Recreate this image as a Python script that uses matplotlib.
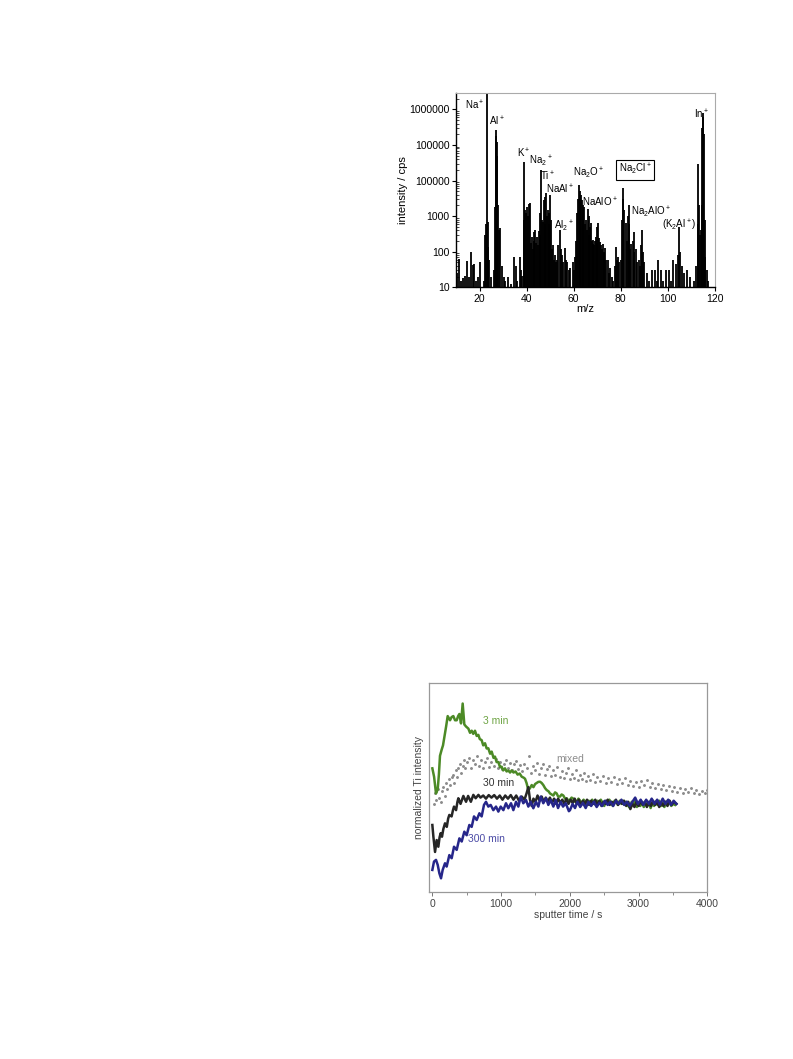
import matplotlib
matplotlib.use("Agg")
import matplotlib.pyplot as plt
from matplotlib.ticker import LogLocator, NullFormatter

plt.rcParams['font.family'] = ['Liberation Sans', 'DejaVu Sans']
plt.rcParams['mathtext.default'] = 'regular'

# --- mass spectrum (top panel) ---
mz = [10.5, 11.2, 12.0, 13.0, 13.8, 14.8, 15.5, 16.5, 17.3, 17.7, 18.5, 19.5, 20.4, 21.8,
      22.5, 22.8, 23.2, 23.5, 23.8, 24.2, 25.0, 26.0, 26.7, 26.95, 27.2, 27.4, 27.55, 27.8,
      28.2, 28.6, 29.6, 30.5, 31.0, 32.3, 33.5, 34.8, 35.3, 36.0, 37.1, 37.6, 38.2, 38.7,
      39.0, 39.3, 39.6, 40.2, 40.6, 41.1, 41.6, 42.0, 42.3, 42.7, 43.0, 43.3, 43.7, 44.0,
      44.4, 44.7, 45.1, 45.5, 45.8, 46.1, 46.4, 46.8, 47.2, 47.6, 48.0, 48.3, 48.7, 49.0,
      49.4, 49.7, 50.1, 50.4, 50.8, 51.2, 51.6, 52.0, 52.5, 53.0, 53.5, 54.0, 54.4, 55.0,
      55.5, 56.2, 56.6, 57.3, 58.0, 58.5, 59.5, 60.0, 60.5, 61.0, 61.4, 61.8, 62.1, 62.5,
      62.8, 63.1, 63.4, 63.8, 64.1, 64.4, 64.8, 65.2, 65.6, 66.0, 66.3, 66.7, 67.1, 67.4,
      67.8, 68.1, 68.4, 68.8, 69.1, 69.4, 69.8, 70.1, 70.5, 70.8, 71.2, 71.6, 72.0, 72.3,
      72.7, 73.0, 73.4, 73.8, 74.5, 75.0, 75.5, 76.2, 76.8, 77.6, 78.0, 78.4, 78.8, 79.4,
      80.0, 80.5, 80.8, 81.1, 81.4, 82.1, 82.5, 83.0, 83.3, 83.6, 84.0, 84.4, 85.0, 85.4,
      85.8, 86.4, 87.0, 87.6, 88.2, 88.7, 89.0, 89.4, 90.0, 91.0, 92.0, 93.3, 94.5, 95.2,
      96.0, 97.0, 98.0, 99.0, 100.3, 101.2, 102.3, 103.3, 104.5, 104.9, 105.3, 106.0, 107.0,
      108.3, 109.5, 111.0, 112.1, 112.6, 112.9, 113.2, 113.6, 114.0, 114.4, 114.7, 114.9,
      115.1, 115.3, 115.6, 115.8, 116.5, 117.2]
counts = [25, 62, 15, 18, 21, 56, 20, 100, 42, 45, 15, 20, 52, 15,
          300, 600, 5000000, 700, 140, 60, 20, 30, 1800, 180000, 260000, 120000, 49000, 2000,
          400, 450, 40, 20, 15, 20, 12, 73, 40, 15, 70, 30, 21, 800,
          34000, 1500, 1200, 1800, 1000, 2200, 2300, 180, 263, 120, 360, 200, 410, 180,
          260, 150, 380, 300, 1200, 20000, 800, 700, 2800, 600, 3500, 4400, 1000, 1500,
          600, 1200, 4000, 800, 120, 150, 60, 80, 50, 60, 150, 400, 120, 80,
          50, 125, 60, 50, 30, 35, 50, 30, 70, 200, 1200, 3000, 7500, 5000,
          3000, 4000, 2800, 1500, 2000, 1800, 600, 780, 400, 1600, 1000, 300, 500, 630,
          200, 160, 215, 150, 200, 260, 180, 500, 650, 250, 190, 150, 120, 170,
          90, 100, 130, 60, 60, 25, 35, 20, 15, 40, 138, 60, 70, 50,
          60, 780, 3000, 6000, 1500, 630, 200, 1000, 2000, 600, 120, 170, 200, 360,
          100, 120, 50, 60, 40, 150, 400, 100, 50, 25, 15, 30, 30, 15,
          60, 30, 15, 30, 30, 15, 60, 45, 80, 500, 100, 40, 25,
          30, 20, 15, 40, 600, 30000, 2000, 300, 400, 2000, 300000, 600000,
          770000, 200000, 800, 70, 30, 15]

ms_ticks = [10, 100, 1000, 10000, 100000, 1000000]
ms_ticklabels = ['10', '100', '1000', '100000', '100000', '1000000']

# (text, m/z, counts, boxed)
ms_labels = [
    ('Na$^+$', 17.9, 1.3e6, False),
    ('Al$^+$', 27.2, 4.5e5, False),
    ('K$^+$', 38.8, 6.0e4, False),
    ('Na$_2$$^+$', 46.1, 3.4e4, False),
    ('Ti$^+$', 48.9, 1.35e4, False),
    ('NaAl$^+$', 54.2, 5.6e3, False),
    ('Al$_2$$^+$', 56.0, 5.0e2, False),
    ('Na$_2$O$^+$', 66.4, 1.6e4, False),
    ('NaAlO$^+$', 71.0, 2.4e3, False),
    ('Na$_2$Cl$^+$', 86.1, 2.0e4, True),
    ('Na$_2$AlO$^+$', 93.0, 1.3e3, False),
    ('(K$_2$Al$^+$)', 105.0, 5.4e2, False),
    ('In$^+$', 114.4, 7.4e5, False),
]

# --- normalized Ti intensity vs sputter time (bottom panel) ---
t_3min = [0, 25, 53, 78, 95, 111, 136, 155, 175, 200, 223, 240, 257, 280, 305, 330, 354, 375,
          393, 417, 441, 465, 490, 524, 548, 572, 595, 620, 645, 669, 690, 717, 740, 766, 790,
          814, 840, 863, 890, 911, 935, 960, 985, 1008, 1030, 1057, 1080, 1105, 1130, 1154,
          1180, 1210, 1240, 1270, 1300, 1330, 1348, 1370, 1396, 1420, 1445, 1470, 1495, 1517,
          1540, 1566, 1590, 1614, 1640, 1663, 1690, 1711, 1735, 1760, 1785, 1808, 1830, 1857,
          1880, 1905, 1930, 1954, 1980, 2002, 2025, 2050, 2075, 2099, 2125, 2150, 2175, 2200,
          2225, 2250, 2275, 2300, 2325, 2350, 2375, 2400, 2425, 2450, 2475, 2500, 2525, 2550,
          2575, 2600, 2625, 2650, 2675, 2700, 2725, 2750, 2775, 2800, 2825, 2850, 2875, 2900,
          2925, 2950, 2975, 3000, 3025, 3050, 3075, 3100, 3125, 3150, 3175, 3200, 3225, 3250,
          3275, 3300, 3325, 3350, 3375, 3400, 3425, 3450, 3475, 3500, 3530]
y_3min = [5.9, 5.5, 4.7, 4.9, 5.6, 6.5, 6.8, 7.0, 7.4, 7.9, 8.4, 8.3, 8.2, 8.35, 8.4, 8.2, 8.2, 8.4,
          8.5, 8.05, 9.0, 8.0, 7.9, 7.8, 7.6, 7.7, 7.55, 7.7, 7.45, 7.5, 7.3, 7.25, 7.0, 7.1, 6.85,
          6.86, 6.6, 6.7, 6.4, 6.46, 6.2, 6.2, 5.95, 5.98, 5.8, 5.9, 5.75, 5.8, 5.7, 5.8,
          5.7, 5.75, 5.6, 5.65, 5.5, 5.45, 5.4, 5.2, 4.86, 4.95, 5.1, 5.0, 5.15, 5.2,
          5.25, 5.26, 5.2, 5.1, 4.95, 4.86, 4.8, 4.7, 4.65, 4.6, 4.75, 4.7, 4.55, 4.55,
          4.65, 4.6, 4.45, 4.47, 4.35, 4.4, 4.5, 4.45, 4.3, 4.3, 4.45, 4.35, 4.2, 4.4,
          4.3, 4.15, 4.35, 4.2, 4.4, 4.25, 4.15, 4.35, 4.2, 4.4, 4.25, 4.1, 4.35, 4.2,
          4.4, 4.25, 4.1, 4.35, 4.3, 4.15, 4.35, 4.2, 4.35, 4.15, 4.3, 4.1, 4.0, 4.3,
          4.15, 4.35, 4.05, 4.25, 4.1, 4.3, 4.05, 4.25, 4.1, 4.3, 4.0, 4.25, 4.1, 4.3,
          4.15, 4.35, 4.1, 4.25, 4.05, 4.3, 4.2, 4.35, 4.1, 4.2, 4.15]

t_30min = [0, 15, 39, 63, 87, 105, 121, 140, 160, 184, 210, 230, 247, 280, 300, 315, 345, 365,
           378, 410, 451, 490, 520, 560, 596, 630, 670, 700, 740, 780, 820, 860, 900, 940, 980,
           1020, 1060, 1100, 1140, 1180, 1220, 1260, 1300, 1340, 1370, 1396, 1420, 1445, 1470,
           1500, 1530, 1560, 1590, 1620, 1650, 1680, 1710, 1740, 1770, 1800, 1830, 1860, 1890,
           1920, 1950, 1980, 2010, 2040, 2070, 2100, 2130, 2160, 2190, 2220, 2250, 2280, 2310,
           2340, 2370, 2400, 2430, 2460, 2490, 2520, 2550, 2580, 2610, 2640, 2670, 2700, 2730,
           2760, 2790, 2820, 2850, 2880, 2910, 2940, 2970, 3000, 3030, 3060, 3090, 3120, 3150,
           3180, 3210, 3240, 3270, 3300, 3330, 3360, 3390, 3420, 3450, 3480, 3510, 3550]
y_30min = [3.19, 2.63, 1.9, 2.47, 2.15, 2.6, 2.8, 2.63, 3.0, 3.27, 3.1, 3.5, 3.67, 3.6, 3.9, 4.07,
           3.9, 4.3, 4.47, 4.2, 4.58, 4.3, 4.58, 4.3, 4.63, 4.47, 4.63, 4.5, 4.6, 4.45, 4.62, 4.5,
           4.62, 4.45, 4.6, 4.4, 4.6, 4.45, 4.62, 4.4, 4.6, 4.35, 4.55, 4.4, 4.7, 5.0, 4.4, 4.1,
           4.45, 4.3, 4.6, 4.35, 4.55, 4.3, 4.5, 4.3, 4.5, 4.25, 4.45, 4.2, 4.45, 4.25, 4.4,
           4.2, 4.45, 4.2, 4.4, 4.25, 4.45, 4.2, 4.4, 4.15, 4.35, 4.2, 4.4, 4.15, 4.35,
           4.2, 4.4, 4.15, 4.35, 4.1, 4.3, 4.2, 4.4, 4.15, 4.3, 4.2, 4.4, 4.15, 4.3,
           4.2, 4.35, 4.1, 4.3, 3.95, 4.2, 4.05, 4.3, 4.1, 4.35, 4.15, 4.3, 4.05, 4.25,
           4.1, 4.35, 4.15, 4.3, 4.05, 4.25, 4.1, 4.3, 4.1, 4.35, 4.15, 4.3, 4.2]

t_300min = [0, 24, 53, 78, 102, 126, 150, 184, 208, 247, 281, 315, 354, 393, 427, 465, 499, 538,
            572, 606, 645, 684, 717, 751, 780, 814, 848, 887, 926, 960, 994, 1033, 1071, 1105,
            1144, 1178, 1217, 1251, 1285, 1323, 1362, 1396, 1430, 1469, 1508, 1542, 1576, 1614,
            1653, 1687, 1721, 1760, 1794, 1828, 1867, 1901, 1940, 1986, 2002, 2040, 2075, 2110,
            2150, 2190, 2230, 2270, 2310, 2350, 2390, 2430, 2470, 2510, 2550, 2590, 2630, 2670,
            2710, 2750, 2790, 2830, 2870, 2910, 2950, 2990, 3030, 3070, 3110, 3150, 3190, 3230,
            3270, 3310, 3350, 3390, 3430, 3470, 3510, 3550]
y_300min = [1.04, 1.44, 1.52, 1.28, 0.88, 0.64, 1.04, 1.36, 1.2, 1.75, 1.6, 2.15, 2.0, 2.55, 2.4,
            2.87, 2.7, 3.19, 3.1, 3.6, 3.43, 3.75, 3.6, 4.15, 4.3, 4.07, 4.15, 3.9, 4.07, 3.83,
            4.07, 3.9, 4.23, 3.99, 4.23, 3.9, 4.3, 4.07, 4.55, 4.23, 4.39, 4.07, 4.3, 3.99, 4.3,
            4.07, 4.55, 4.23, 4.47, 4.15, 4.39, 4.07, 4.39, 4.0, 4.3, 4.07, 4.23, 3.85, 3.9,
            4.2, 4.0, 4.3, 4.05, 4.25, 4.0, 4.3, 4.1, 4.3, 4.05, 4.25, 4.1, 4.35, 4.15, 4.3,
            4.1, 4.35, 4.2, 4.4, 4.15, 4.3, 4.1, 4.3, 4.5, 4.2, 4.4, 4.15, 4.4, 4.2, 4.45,
            4.2, 4.4, 4.15, 4.45, 4.2, 4.4, 4.15, 4.35, 4.2]

t_mixed = [20, 40, 60, 80, 100, 120, 140, 160, 180, 200, 220, 240, 260, 280, 300, 320, 340, 360,
           380, 400, 420, 440, 460, 480, 500, 530, 560, 590, 620, 650, 680, 710, 740, 770, 800,
           830, 860, 890, 920, 950, 980, 1010, 1040, 1070, 1100, 1130, 1160, 1190, 1220, 1250,
           1280, 1310, 1340, 1370, 1400, 1430, 1460, 1490, 1520, 1550, 1580, 1610, 1640, 1670,
           1700, 1730, 1760, 1790, 1820, 1850, 1880, 1910, 1940, 1970, 2000, 2030, 2060, 2090,
           2120, 2150, 2180, 2210, 2240, 2270, 2300, 2330, 2360, 2400, 2440, 2480, 2520, 2560,
           2600, 2640, 2680, 2720, 2760, 2800, 2840, 2880, 2920, 2960, 3000, 3040, 3080, 3120,
           3160, 3200, 3240, 3280, 3320, 3360, 3400, 3440, 3480, 3520, 3560, 3600, 3640, 3680,
           3720, 3760, 3800, 3840, 3880, 3920, 3960, 4000]
y_mixed = [4.2, 4.7, 4.4, 4.9, 4.5, 4.3, 4.8, 5.0, 4.6, 5.2, 4.9, 5.4, 5.1, 5.5, 5.6, 5.2, 5.8, 5.5,
           5.9, 6.1, 5.7, 6.0, 6.3, 5.9, 6.2, 6.4, 5.9, 6.3, 6.1, 6.5, 6.0, 6.3, 5.9, 6.2, 6.4,
           5.95, 6.2, 6.0, 6.35, 5.9, 6.2, 5.85, 6.1, 6.3, 5.9, 6.15, 5.8, 6.1, 6.25, 5.85,
           6.05, 5.75, 6.1, 5.9, 6.5, 5.7, 6.0, 5.8, 6.15, 5.65, 5.9, 6.1, 5.6, 5.85,
           6.0, 5.55, 5.8, 5.6, 5.95, 5.5, 5.75, 5.45, 5.7, 5.9, 5.4, 5.65, 5.45, 5.8,
           5.35, 5.6, 5.4, 5.7, 5.3, 5.55, 5.35, 5.65, 5.25, 5.5, 5.3, 5.55, 5.2, 5.45,
           5.25, 5.5, 5.15, 5.4, 5.2, 5.45, 5.1, 5.3, 5.05, 5.25, 5.0, 5.3, 5.1, 5.35,
           5.0, 5.2, 4.95, 5.15, 4.9, 5.1, 4.85, 5.05, 4.8, 5.0, 4.75, 4.95, 4.7, 4.9,
           4.75, 4.95, 4.7, 4.85, 4.65, 4.8, 4.7, 4.85]

fig = plt.figure(figsize=(7.93, 10.59), dpi=100)

# ---------------- top panel ----------------
ax1 = fig.add_axes([0.575, 0.7287, 0.3266, 0.1835])
ax1.vlines(mz, 10, counts, color='black', lw=1.3)
ax1.set_yscale('log')
ax1.set_xlim(10, 120)
ax1.set_ylim(10, 2.9e6)
ax1.set_xticks([20, 40, 60, 80, 100, 120])
ax1.set_yticks(ms_ticks)
ax1.set_yticklabels(ms_ticklabels)
ax1.yaxis.set_minor_locator(LogLocator(base=10, subs=range(2, 10)))
ax1.yaxis.set_minor_formatter(NullFormatter())
ax1.tick_params(axis='both', which='major', labelsize=7.5, length=3, width=0.8, pad=1.5)
ax1.tick_params(axis='y', which='minor', direction='in', length=2, width=0.5)
ax1.set_xlabel('m/z', fontsize=8, labelpad=0)
ax1.set_ylabel('intensity / cps', fontsize=8, labelpad=1)
for side in ['top', 'right']:
    ax1.spines[side].set_color('#aaaaaa')
    ax1.spines[side].set_linewidth(0.8)
for side in ['left', 'bottom']:
    ax1.spines[side].set_linewidth(1.0)

for text, x, y, boxed in ms_labels:
    kw = {}
    if boxed:
        kw['bbox'] = dict(boxstyle='square,pad=0.25', fc='white', ec='black', lw=0.8)
    ax1.text(x, y, text, fontsize=7, ha='center', va='center', **kw)

# ---------------- bottom panel ----------------
ax2 = fig.add_axes([0.5414, 0.158, 0.3506, 0.1974])
ax2.plot(t_mixed, y_mixed, ls='none', marker='.', ms=2.2, color='#8c8c8c')
ax2.plot(t_3min, y_3min, color='#4c8a26', lw=1.8)
ax2.plot(t_30min, y_30min, color='#262626', lw=1.8)
ax2.plot(t_300min, y_300min, color='#26268a', lw=1.8)
ax2.set_xlim(-44, 4000)
ax2.set_ylim(0, 10)
ax2.set_xticks([0, 1000, 2000, 3000, 4000])
ax2.set_xticks([500, 1500, 2500, 3500], minor=True)
ax2.set_yticks([])
ax2.tick_params(axis='x', which='major', labelsize=7.5, length=3, width=0.7,
                color='#777777', labelcolor='#444444', pad=2)
ax2.tick_params(axis='x', which='minor', length=2, width=0.6, color='#777777')
ax2.set_xlabel('sputter time / s', fontsize=7.5, color='#444444', labelpad=1)
ax2.set_ylabel('normalized Ti intensity', fontsize=7.5, color='#444444', labelpad=4)
for side in ax2.spines:
    ax2.spines[side].set_color('#999999')
    ax2.spines[side].set_linewidth(0.9)

ax2.text(742, 8.17, '3 min', color='#6ea444', fontsize=7.5, va='center')
ax2.text(1808, 6.33, 'mixed', color='#8c8c8c', fontsize=7.5, va='center')
ax2.text(742, 5.18, '30 min', color='#333333', fontsize=7.5, va='center')
ax2.text(523, 2.5, '300 min', color='#4c4ca6', fontsize=7.5, va='center')

fig.savefig('out.png', dpi=100)
